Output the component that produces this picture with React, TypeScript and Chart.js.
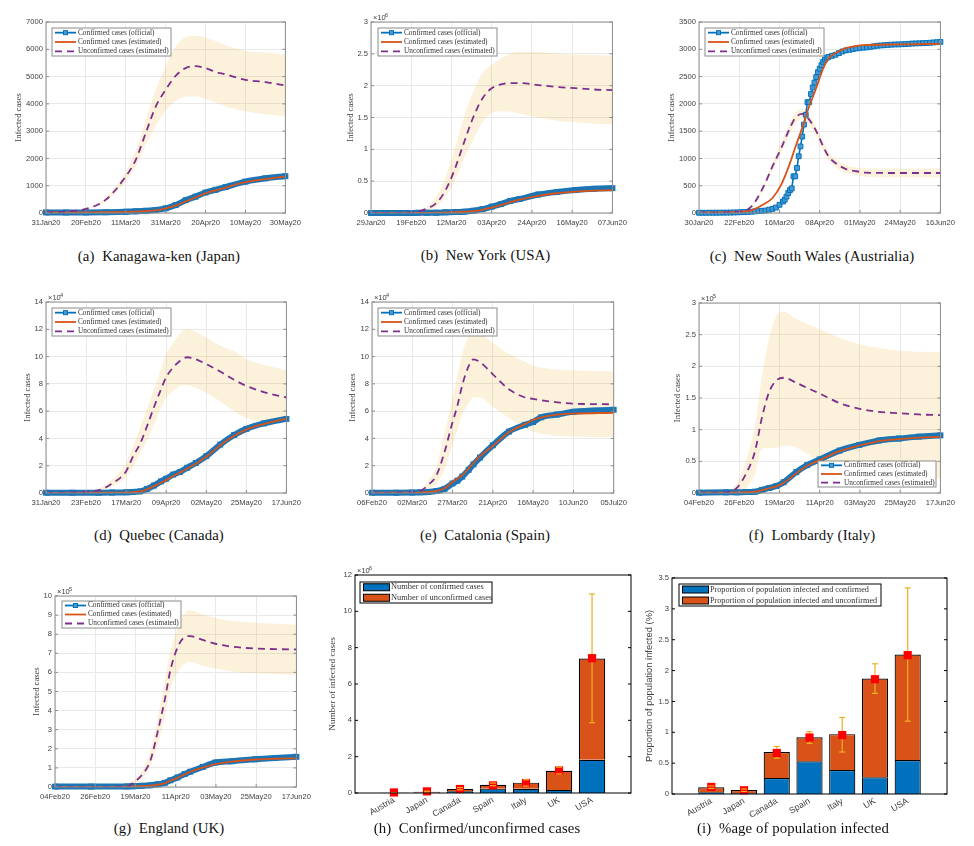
import React, { useEffect, useRef } from 'react';
import { Chart, registerables } from 'chart.js';

Chart.register(...registerables);

const BLUE = '#0072BD';
const ORANGE = '#D95319';
const PURPLE = '#7E2F8E';
const YELLOW = '#EDB120';
const BAND = 'rgba(237,177,32,0.16)';
const SERIF = '"Liberation Serif", serif';
const SANS = '"Liberation Sans", sans-serif';

const lineLegend = ['Confirmed cases (official)', 'Confirmed cases (estimated)', 'Unconfirmed cases (estimated)'];

// (a) Kanagawa
const ticksA = ['31Jan20', '20Feb20', '11Mar20', '31Mar20', '20Apr20', '10May20', '30May20'];
const yTicksA = [0, 1000, 2000, 3000, 4000, 5000, 6000, 7000];
const daysA = [0, 10, 20, 30, 40, 45, 50, 55, 60, 65, 70, 75, 80, 85, 90, 100, 110, 120];
const officialA = [20, 20, 22, 30, 45, 60, 80, 110, 170, 290, 470, 600, 750, 850, 950, 1150, 1270, 1350];
const estimatedA = [20, 20, 22, 28, 40, 50, 70, 100, 170, 270, 420, 570, 720, 830, 930, 1130, 1240, 1340];
const unconfirmedA = [20, 50, 150, 490, 1340, 1950, 2930, 3900, 4520, 5030, 5310, 5380, 5310, 5170, 5080, 4880, 4800, 4670];
const upperA = [20, 55, 170, 560, 1520, 2300, 3400, 4500, 5400, 6100, 6450, 6500, 6430, 6300, 6150, 5950, 5880, 5800];
const lowerA = [20, 45, 120, 420, 1150, 1700, 2500, 3200, 3750, 4100, 4260, 4270, 4180, 4050, 3900, 3720, 3620, 3550];

// (b) New York, x10^6
const ticksB = ['29Jan20', '19Feb20', '12Mar20', '03Apr20', '24Apr20', '16May20', '07Jun20'];
const yTicksB = [0, 0.5, 1, 1.5, 2, 2.5, 3];
const daysB = [0, 10, 20, 25, 30, 35, 40, 45, 50, 55, 60, 65, 70, 75, 80, 90, 100, 110, 120, 130];
const officialB = [0, 0, 0, 0.002, 0.003, 0.005, 0.01, 0.015, 0.02, 0.035, 0.06, 0.1, 0.14, 0.19, 0.22, 0.29, 0.33, 0.36, 0.38, 0.39];
const estimatedB = [0, 0, 0, 0.001, 0.002, 0.004, 0.008, 0.012, 0.02, 0.03, 0.05, 0.085, 0.125, 0.17, 0.21, 0.27, 0.31, 0.335, 0.35, 0.36];
const unconfirmedB = [0, 0, 0.01, 0.02, 0.07, 0.15, 0.35, 0.68, 1.1, 1.5, 1.8, 1.96, 2.02, 2.04, 2.04, 2.01, 1.98, 1.96, 1.94, 1.93];
const upperB = [0, 0, 0.01, 0.03, 0.1, 0.25, 0.55, 1.0, 1.5, 1.9, 2.2, 2.33, 2.43, 2.5, 2.53, 2.53, 2.5, 2.49, 2.48, 2.47];
const lowerB = [0, 0, 0.005, 0.01, 0.04, 0.1, 0.25, 0.5, 0.85, 1.15, 1.42, 1.57, 1.6, 1.59, 1.56, 1.5, 1.45, 1.42, 1.4, 1.39];

// (c) New South Wales
const ticksC = ['30Jan20', '22Feb20', '16Mar20', '08Apr20', '01May20', '24May20', '16Jun20'];
const yTicksC = [0, 500, 1000, 1500, 2000, 2500, 3000, 3500];
const daysC = [0, 23, 30, 37, 42, 47, 52, 55, 59, 63, 67, 71, 74, 78, 84, 90, 95, 115, 138];
const estimatedC = [5, 25, 50, 160, 275, 520, 915, 1200, 1560, 1955, 2290, 2650, 2830, 2930, 3020, 3060, 3075, 3090, 3100];
const unconfirmedC = [5, 25, 120, 490, 855, 1190, 1560, 1740, 1815, 1710, 1500, 1220, 1040, 915, 805, 765, 740, 733, 733];
const upperC = [5, 28, 130, 530, 920, 1290, 1660, 1840, 1900, 1800, 1590, 1310, 1120, 990, 880, 835, 815, 815, 820];
const lowerC = [5, 22, 110, 450, 790, 1090, 1450, 1630, 1720, 1610, 1410, 1130, 960, 845, 735, 695, 665, 650, 650];
const officialDaysC = [
  0, 2, 4, 6, 8, 10, 12, 14, 16, 18, 20, 22, 24, 26, 28, 30, 32, 34, 36, 38, 40,
  42, 44, 46, 48, 49, 50, 51, 52, 53, 54, 55, 56, 57, 58, 59, 60, 61, 62, 63, 64, 65, 66, 67, 68, 69, 70, 71, 72, 73, 74,
  76, 78, 80, 82, 84, 86, 88, 90, 92, 94, 96, 98, 100, 102, 104, 106, 108, 110, 112, 114, 116, 118, 120, 122, 124, 126, 128, 130, 132, 134, 136, 138,
];
const officialC = [
  4, 4, 4, 5, 5, 5, 6, 6, 7, 8, 10, 12, 15, 17, 20, 24, 30, 34, 40, 45, 60,
  75, 100, 150, 210, 245, 300, 365, 420, 450, 672, 672, 825, 1040, 1220, 1400, 1620, 1800, 2030, 2030, 2180, 2300, 2390, 2490, 2580, 2645, 2710, 2770, 2810, 2845, 2860,
  2880, 2900, 2930, 2960, 2980, 2990, 3005, 3015, 3025, 3030, 3035, 3045, 3055, 3065, 3070, 3075, 3080, 3085, 3088, 3090, 3092, 3095, 3100, 3105, 3108, 3110, 3112, 3115, 3120, 3125, 3130, 3135,
];

// (d) Quebec, x10^4
const ticksD = ['31Jan20', '23Feb20', '17Mar20', '09Apr20', '02May20', '25May20', '17Jun20'];
const yTicksD = [0, 2, 4, 6, 8, 10, 12, 14];
const daysD = [0, 15, 30, 38, 46, 50, 54, 58, 62, 66, 69, 73, 77, 81, 86, 92, 100, 108, 115, 125, 138];
const officialD = [0.02, 0.02, 0.02, 0.03, 0.05, 0.08, 0.12, 0.3, 0.55, 0.85, 1.05, 1.35, 1.55, 1.85, 2.2, 2.7, 3.55, 4.25, 4.7, 5.1, 5.43];
const estimatedD = [0.01, 0.01, 0.02, 0.03, 0.05, 0.07, 0.12, 0.27, 0.5, 0.75, 0.95, 1.25, 1.5, 1.8, 2.15, 2.65, 3.5, 4.2, 4.65, 5.05, 5.45];
const unconfirmedD = [0.01, 0.05, 0.2, 0.7, 1.6, 2.7, 3.6, 4.9, 6.3, 7.6, 8.5, 9.2, 9.7, 9.95, 9.8, 9.45, 8.9, 8.3, 7.85, 7.4, 7.0];
const upperD = [0.02, 0.05, 0.3, 1, 2.2, 3.4, 4.8, 6.2, 7.6, 9.1, 10.2, 11, 11.7, 12, 11.8, 11.4, 10.8, 10.4, 9.8, 9.4, 9.0];
const lowerD = [0.01, 0.03, 0.15, 0.5, 1.2, 1.9, 2.9, 3.9, 5, 6.2, 7, 7.5, 7.85, 7.9, 7.7, 7.35, 6.7, 6, 5.5, 5.2, 5.1];

// (e) Catalonia, x10^4
const ticksE = ['06Feb20', '02Mar20', '27Mar20', '21Apr20', '16May20', '10Jun20', '05Jul20'];
const yTicksE = [0, 2, 4, 6, 8, 10, 12, 14];
const daysE = [0, 15, 25, 30, 35, 40, 45, 50, 53, 56, 60, 63, 67, 75, 85, 95, 100, 105, 115, 125, 150];
const officialE = [0.02, 0.02, 0.03, 0.05, 0.08, 0.15, 0.3, 0.7, 0.9, 1.2, 1.7, 2.1, 2.6, 3.5, 4.5, 5.0, 5.2, 5.55, 5.75, 5.95, 6.1];
const estimatedE = [0.02, 0.02, 0.03, 0.05, 0.08, 0.15, 0.35, 0.8, 1.05, 1.3, 1.8, 2.2, 2.7, 3.45, 4.45, 5.05, 5.35, 5.55, 5.75, 5.82, 5.88];
const unconfirmedE = [0.01, 0.02, 0.05, 0.15, 0.6, 1.3, 3.0, 5.2, 6.4, 7.9, 9.3, 9.8, 9.6, 8.7, 7.6, 7.0, 6.9, 6.8, 6.65, 6.55, 6.5];
const upperE = [0.01, 0.02, 0.05, 0.2, 0.9, 2, 4.4, 7, 8.6, 10.2, 11.5, 11.9, 11.7, 11, 10.2, 9.6, 9.35, 9.2, 9.05, 9, 8.9];
const lowerE = [0.01, 0.01, 0.03, 0.08, 0.3, 0.7, 1.7, 3.6, 4.6, 5.7, 6.6, 7, 7, 6.3, 5.5, 4.8, 4.5, 4.35, 4.2, 4.15, 4.1];

// (f) Lombardy, x10^5
const ticksF = ['04Feb20', '26Feb20', '19Mar20', '11Apr20', '03May20', '25May20', '17Jun20'];
const yTicksF = [0, 0.5, 1, 1.5, 2, 2.5, 3];
const daysF = [0, 15, 21, 26, 31, 35, 39, 43, 47, 54, 60, 67, 78, 89, 100, 111, 122, 134];
const officialF = [0.005, 0.01, 0.01, 0.015, 0.02, 0.05, 0.08, 0.11, 0.17, 0.33, 0.44, 0.53, 0.67, 0.76, 0.83, 0.86, 0.89, 0.91];
const estimatedF = [0.005, 0.005, 0.01, 0.012, 0.02, 0.045, 0.075, 0.105, 0.16, 0.31, 0.43, 0.52, 0.66, 0.75, 0.82, 0.85, 0.875, 0.885];
const unconfirmedF = [0, 0.01, 0.08, 0.3, 0.65, 1.2, 1.6, 1.78, 1.82, 1.74, 1.66, 1.57, 1.42, 1.33, 1.28, 1.26, 1.24, 1.23];
const upperF = [0, 0.03, 0.15, 0.5, 1.05, 1.85, 2.45, 2.8, 2.86, 2.75, 2.67, 2.59, 2.45, 2.35, 2.29, 2.25, 2.23, 2.22];
const lowerF = [0, 0, 0.03, 0.08, 0.3, 0.7, 0.71, 0.71, 0.75, 0.72, 0.62, 0.5, 0.33, 0.27, 0.25, 0.24, 0.24, 0.23];

// (g) England, x10^5
const ticksG = ['04Feb20', '26Feb20', '19Mar20', '11Apr20', '03May20', '25May20', '17Jun20'];
const yTicksG = [0, 1, 2, 3, 4, 5, 6, 7, 8, 9, 10];
const daysG = [0, 20, 40, 43, 48, 53, 57, 61, 64, 68, 72, 75, 82, 89, 98, 111, 122, 134];
const officialG = [0.02, 0.02, 0.03, 0.04, 0.06, 0.09, 0.14, 0.22, 0.35, 0.5, 0.68, 0.8, 1.05, 1.28, 1.35, 1.45, 1.52, 1.58];
const estimatedG = [0.01, 0.01, 0.02, 0.03, 0.05, 0.07, 0.12, 0.2, 0.33, 0.48, 0.66, 0.8, 1.02, 1.2, 1.33, 1.44, 1.48, 1.5];
const unconfirmedG = [0.01, 0.01, 0.02, 0.2, 0.6, 1.4, 2.9, 4.6, 6.1, 7.3, 7.85, 7.9, 7.7, 7.5, 7.35, 7.25, 7.22, 7.2];
const upperG = [0.01, 0.01, 0.03, 0.3, 0.8, 1.9, 3.6, 5.6, 7.1, 8.3, 9.1, 9.25, 9.05, 8.85, 8.7, 8.6, 8.55, 8.5];
const lowerG = [0.01, 0.01, 0.01, 0.1, 0.4, 1.1, 2.2, 3.7, 5.1, 6, 6.45, 6.55, 6.35, 6.2, 6.05, 5.95, 5.9, 5.88];

// (h) and (i) bars
const countries = ['Austria', 'Japan', 'Canada', 'Spain', 'Italy', 'UK', 'USA'];
const yTicksH = [0, 2, 4, 6, 8, 10, 12];
const confirmedH = [0.003, 0.017, 0.1, 0.24, 0.23, 0.17, 1.83];
const unconfirmedH = [0.007, 0.053, 0.12, 0.21, 0.34, 1.05, 5.57];
const meanH = [0.03, 0.09, 0.22, 0.42, 0.55, 1.24, 7.42];
const lowH = [0.01, 0.05, 0.18, 0.4, 0.38, 1.05, 3.87];
const highH = [0.02, 0.1, 0.3, 0.55, 0.73, 1.42, 10.95];

const yTicksI = [0, 0.5, 1, 1.5, 2, 2.5, 3, 3.5];
const confirmedI = [0.03, 0.015, 0.26, 0.53, 0.39, 0.27, 0.55];
const unconfirmedI = [0.08, 0.05, 0.42, 0.39, 0.58, 1.6, 1.71];
const meanI = [0.115, 0.06, 0.665, 0.915, 0.955, 1.86, 2.25];
const lowI = [0.09, 0.04, 0.58, 0.82, 0.68, 1.63, 1.18];
const highI = [0.13, 0.08, 0.77, 1.01, 1.24, 2.11, 3.34];

type Rect = { left: number; top: number; w: number; h: number; padL: number };
type Box = { x: number; y: number; w: number; h: number };

const pts = (xs: number[], ys: number[]) => xs.map((x, i) => ({ x, y: ys[i] }));

// frame, inward ticks, x10^n note and the boxed legend, all on top of the data
function overlay(o: {
  frame: string;
  exponent?: number;
  legend: Box;
  font: number;
  labels: string[];
  bars?: boolean;
}) {
  return {
    id: 'overlay',
    afterDraw(chart: any) {
      const { ctx, chartArea: a, scales } = chart;
      ctx.save();
      ctx.strokeStyle = o.frame;
      ctx.lineWidth = 1;
      ctx.strokeRect(a.left, a.top, a.right - a.left, a.bottom - a.top);
      for (const t of scales.y.ticks) {
        const y = scales.y.getPixelForValue(t.value);
        ctx.beginPath();
        ctx.moveTo(a.left, y);
        ctx.lineTo(a.left + 3, y);
        ctx.moveTo(a.right, y);
        ctx.lineTo(a.right - 3, y);
        ctx.stroke();
      }
      if (!o.bars) {
        for (const t of scales.x.ticks) {
          const x = scales.x.getPixelForValue(t.value);
          ctx.beginPath();
          ctx.moveTo(x, a.bottom);
          ctx.lineTo(x, a.bottom - 3);
          ctx.stroke();
        }
      }
      if (o.exponent !== undefined) {
        ctx.fillStyle = '#404040';
        ctx.textBaseline = 'alphabetic';
        ctx.textAlign = 'left';
        ctx.font = `7.5px ${SANS}`;
        ctx.fillText('\u00d710', a.left + 2, a.top - 2);
        ctx.font = `5.5px ${SANS}`;
        ctx.fillText(String(o.exponent), a.left + 14, a.top - 5);
      }
      // legend, position given relative to the plot corner
      const L = o.legend;
      const lx = a.left + L.x;
      const ly = a.top + L.y;
      ctx.fillStyle = '#fff';
      ctx.fillRect(lx, ly, L.w, L.h);
      ctx.strokeStyle = o.bars ? '#000' : '#8c8c8c';
      ctx.strokeRect(lx, ly, L.w, L.h);
      ctx.font = `${o.font}px ${SERIF}`;
      ctx.textBaseline = 'middle';
      ctx.textAlign = 'left';
      o.labels.forEach((label, i) => {
        const rowH = L.h / o.labels.length;
        const cy = ly + rowH * (i + 0.5);
        if (o.bars) {
          ctx.fillStyle = i === 0 ? BLUE : ORANGE;
          ctx.strokeStyle = '#000';
          ctx.fillRect(lx + 3.5, cy - 3.5, 26, 7);
          ctx.strokeRect(lx + 3.5, cy - 3.5, 26, 7);
        } else {
          ctx.lineWidth = 1.8;
          ctx.strokeStyle = [BLUE, ORANGE, PURPLE][i];
          ctx.setLineDash(i === 2 ? [7, 5] : []);
          ctx.beginPath();
          ctx.moveTo(lx + 3, cy);
          ctx.lineTo(lx + 24, cy);
          ctx.stroke();
          ctx.setLineDash([]);
          if (i === 0) {
            ctx.fillStyle = '#4a9ad0';
            ctx.lineWidth = 1;
            ctx.fillRect(lx + 11.5, cy - 2, 4, 4);
            ctx.strokeRect(lx + 11.5, cy - 2, 4, 4);
          }
          ctx.lineWidth = 1;
        }
        ctx.fillStyle = '#333';
        ctx.fillText(label, lx + (o.bars ? 31 : 26), cy);
      });
      ctx.restore();
    },
  };
}

const tickFont = { family: SANS, size: 7.6 };

function yAxis(rect: Rect, ticks: number[], title: string, grid: boolean, titleFont: any) {
  return {
    min: ticks[0],
    max: ticks[ticks.length - 1],
    afterFit: (s: any) => {
      s.width = rect.padL;
    },
    afterBuildTicks: (s: any) => {
      s.ticks = ticks.map((value) => ({ value }));
    },
    title: { display: true, text: title, font: titleFont, color: '#404040', padding: 0 },
    ticks: {
      font: tickFont,
      color: '#404040',
      padding: 3,
      autoSkip: false,
      callback: (v: any) => String(v),
    },
    grid: { display: grid, color: '#e9e9e9', drawTicks: false },
    border: { display: false },
  };
}

function Canvas({ rect, padB, config }: { rect: Rect; padB: number; config: () => any }) {
  const ref = useRef<HTMLCanvasElement>(null);
  useEffect(() => {
    if (!ref.current) return;
    const chart = new Chart(ref.current, config());
    return () => chart.destroy();
  }, []);
  return (
    <canvas
      ref={ref}
      width={rect.padL + rect.w + 18}
      height={rect.h + 10 + padB}
      style={{ position: 'absolute', left: rect.left - rect.padL, top: rect.top - 10 }}
    />
  );
}

function LinePanel(p: {
  rect: Rect;
  days: number[];
  officialDays?: number[];
  official: number[];
  estimated: number[];
  unconfirmed: number[];
  upper: number[];
  lower: number[];
  xTicks: string[];
  yTicks: number[];
  exponent?: number;
  legend: Box;
}) {
  const { rect, days, xTicks, yTicks } = p;
  const sparse = !!p.officialDays;
  const maxDay = days[days.length - 1];
  const config = () => ({
    type: 'line',
    data: {
      datasets: [
        {
          data: pts(days, p.upper),
          fill: '+1',
          backgroundColor: BAND,
          borderWidth: 0,
          pointRadius: 0,
          cubicInterpolationMode: 'monotone',
          order: 5,
        },
        {
          data: pts(days, p.lower),
          borderWidth: 0,
          pointRadius: 0,
          cubicInterpolationMode: 'monotone',
          order: 4,
        },
        {
          data: pts(p.officialDays ?? days, p.official),
          borderColor: sparse ? BLUE : '#1c75b5',
          borderWidth: sparse ? 1.6 : 6,
          pointStyle: 'rect',
          pointRadius: sparse ? 3.4 : 4.2,
          pointBorderWidth: sparse ? 1 : 0,
          pointBorderColor: BLUE,
          pointBackgroundColor: sparse ? '#4a9ad0' : '#1c75b5',
          cubicInterpolationMode: sparse ? 'default' : 'monotone',
          clip: false,
          order: 3,
        },
        {
          data: pts(days, p.estimated),
          borderColor: ORANGE,
          borderWidth: 1.8,
          pointRadius: 0,
          cubicInterpolationMode: 'monotone',
          order: 2,
        },
        {
          data: pts(days, p.unconfirmed),
          borderColor: PURPLE,
          borderWidth: 1.8,
          borderDash: [7, 5],
          pointRadius: 0,
          cubicInterpolationMode: 'monotone',
          order: 1,
        },
      ],
    },
    options: {
      responsive: false,
      animation: false,
      layout: { padding: { top: 10, right: 18 } },
      plugins: { legend: { display: false }, tooltip: { enabled: false } },
      scales: {
        x: {
          type: 'linear',
          min: 0,
          max: maxDay,
          afterFit: (s: any) => {
            s.height = 18;
          },
          afterBuildTicks: (s: any) => {
            s.ticks = xTicks.map((_, i) => ({ value: (maxDay * i) / (xTicks.length - 1) }));
          },
          ticks: {
            font: tickFont,
            color: '#404040',
            padding: 5,
            maxRotation: 0,
            autoSkip: false,
            callback: (_: any, i: number) => xTicks[i],
          },
          grid: { color: '#e9e9e9', drawTicks: false },
          border: { display: false },
        },
        y: yAxis(rect, yTicks, 'Infected cases', true, { family: SERIF, size: 8.6 }),
      },
    },
    plugins: [overlay({ frame: '#8c8c8c', exponent: p.exponent, legend: p.legend, font: 7.3, labels: lineLegend })],
  });
  return <Canvas rect={rect} padB={18} config={config} />;
}

function BarPanel(p: {
  rect: Rect;
  margin: number;
  confirmed: number[];
  unconfirmed: number[];
  mean: number[];
  low: number[];
  high: number[];
  yTicks: number[];
  yTitle: string;
  titleFont: any;
  exponent?: number;
  legend: Box;
  font: number;
  labels: string[];
}) {
  const { rect, margin } = p;
  const idx = countries.map((_, i) => i);
  const config = () => ({
    type: 'bar',
    data: {
      datasets: [
        ...idx.map((i) => ({
          type: 'scatter',
          data: [
            { x: i, y: p.low[i] },
            { x: i, y: p.high[i] },
          ],
          pointStyle: 'line',
          pointRadius: 3,
          pointBorderWidth: 1.2,
          pointBorderColor: YELLOW,
          showLine: false,
          order: 0,
        })),
        {
          type: 'scatter',
          data: pts(idx, p.mean),
          pointStyle: 'rect',
          pointRadius: 5.8,
          pointBorderWidth: 0,
          pointBackgroundColor: '#ff0000',
          clip: false,
          order: 1,
        },
        ...idx.map((i) => ({
          type: 'line',
          data: [
            { x: i, y: p.low[i] },
            { x: i, y: p.high[i] },
          ],
          borderColor: YELLOW,
          borderWidth: 1.2,
          pointRadius: 0,
          order: 2,
        })),
        {
          data: pts(idx, p.confirmed),
          backgroundColor: BLUE,
          borderColor: '#000',
          borderWidth: 1.2,
          stack: 'total',
          categoryPercentage: 1,
          barPercentage: 0.8,
          order: 3,
        },
        {
          data: pts(idx, p.unconfirmed),
          backgroundColor: ORANGE,
          borderColor: '#000',
          borderWidth: 1.2,
          stack: 'total',
          categoryPercentage: 1,
          barPercentage: 0.8,
          order: 4,
        },
      ],
    },
    options: {
      responsive: false,
      animation: false,
      layout: { padding: { top: 10, right: 18 } },
      plugins: { legend: { display: false }, tooltip: { enabled: false } },
      scales: {
        x: {
          type: 'linear',
          offset: false,
          min: -margin,
          max: countries.length - 1 + margin,
          afterFit: (s: any) => {
            s.height = 32;
          },
          afterBuildTicks: (s: any) => {
            s.ticks = idx.map((value) => ({ value }));
          },
          ticks: {
            font: { family: SANS, size: 8.8 },
            color: '#404040',
            padding: 2,
            minRotation: 30,
            maxRotation: 30,
            autoSkip: false,
            callback: (_: any, i: number) => countries[i],
          },
          grid: { display: false, drawTicks: false },
          border: { display: false },
        },
        y: yAxis(rect, p.yTicks, p.yTitle, false, p.titleFont),
      },
    },
    plugins: [overlay({ frame: '#000', exponent: p.exponent, legend: p.legend, font: p.font, labels: p.labels, bars: true })],
  });
  return <Canvas rect={rect} padB={32} config={config} />;
}

const captions: [string, number, number][] = [
  ['(a)  Kanagawa-ken (Japan)', 159, 258],
  ['(b)  New York (USA)', 485.5, 257],
  ['(c)  New South Wales (Austrialia)', 812, 258],
  ['(d)  Quebec (Canada)', 159, 537],
  ['(e)  Catalonia (Spain)', 485, 537],
  ['(f)  Lombardy (Italy)', 812, 537],
  ['(g)  England (UK)', 169, 830],
  ['(h)  Confirmed/unconfirmed cases', 477, 830],
  ['(i)  %age of population infected', 793, 830],
];

export default function App() {
  return (
    <div style={{ position: 'absolute', left: 0, top: 0, width: 974, height: 846, background: '#fff', overflow: 'hidden' }}>
      <LinePanel
        rect={{ left: 46, top: 22, w: 242, h: 191, padL: 32 }}
        days={daysA}
        official={officialA}
        estimated={estimatedA}
        unconfirmed={unconfirmedA}
        upper={upperA}
        lower={lowerA}
        xTicks={ticksA}
        yTicks={yTicksA}
        legend={{ x: 6, y: 6, w: 119, h: 28 }}
      />
      <LinePanel
        rect={{ left: 371, top: 22, w: 243, h: 191, padL: 25 }}
        days={daysB}
        official={officialB}
        estimated={estimatedB}
        unconfirmed={unconfirmedB}
        upper={upperB}
        lower={lowerB}
        xTicks={ticksB}
        yTicks={yTicksB}
        exponent={6}
        legend={{ x: 7, y: 6, w: 119, h: 28 }}
      />
      <LinePanel
        rect={{ left: 699, top: 22, w: 243, h: 191, padL: 32 }}
        days={daysC}
        officialDays={officialDaysC}
        official={officialC}
        estimated={estimatedC}
        unconfirmed={unconfirmedC}
        upper={upperC}
        lower={lowerC}
        xTicks={ticksC}
        yTicks={yTicksC}
        legend={{ x: 6, y: 6, w: 119, h: 28 }}
      />
      <LinePanel
        rect={{ left: 46, top: 302, w: 242, h: 191, padL: 23 }}
        days={daysD}
        official={officialD}
        estimated={estimatedD}
        unconfirmed={unconfirmedD}
        upper={upperD}
        lower={lowerD}
        xTicks={ticksD}
        yTicks={yTicksD}
        exponent={4}
        legend={{ x: 6, y: 6, w: 119, h: 28 }}
      />
      <LinePanel
        rect={{ left: 372, top: 302, w: 242, h: 191, padL: 24 }}
        days={daysE}
        official={officialE}
        estimated={estimatedE}
        unconfirmed={unconfirmedE}
        upper={upperE}
        lower={lowerE}
        xTicks={ticksE}
        yTicks={yTicksE}
        exponent={4}
        legend={{ x: 6, y: 6, w: 119, h: 28 }}
      />
      <LinePanel
        rect={{ left: 699, top: 303, w: 243, h: 190, padL: 26 }}
        days={daysF}
        official={officialF}
        estimated={estimatedF}
        unconfirmed={unconfirmedF}
        upper={upperF}
        lower={lowerF}
        xTicks={ticksF}
        yTicks={yTicksF}
        exponent={5}
        legend={{ x: 119, y: 158, w: 118, h: 26 }}
      />
      <LinePanel
        rect={{ left: 55, top: 596, w: 243, h: 191, padL: 23 }}
        days={daysG}
        official={officialG}
        estimated={estimatedG}
        unconfirmed={unconfirmedG}
        upper={upperG}
        lower={lowerG}
        xTicks={ticksG}
        yTicks={yTicksG}
        exponent={5}
        legend={{ x: 7, y: 5, w: 119, h: 27 }}
      />
      <BarPanel
        rect={{ left: 355, top: 575, w: 276, h: 218, padL: 28 }}
        margin={1.18}
        confirmed={confirmedH}
        unconfirmed={unconfirmedH}
        mean={meanH}
        low={lowH}
        high={highH}
        yTicks={yTicksH}
        yTitle="Number of infected cases"
        titleFont={{ family: SERIF, size: 9.2 }}
        exponent={6}
        legend={{ x: 5, y: 7, w: 132, h: 21 }}
        font={8.4}
        labels={['Number of confirmed cases', 'Number of unconfirmed cases']}
      />
      <BarPanel
        rect={{ left: 672, top: 578, w: 275, h: 216, padL: 28 }}
        margin={1.2}
        confirmed={confirmedI}
        unconfirmed={unconfirmedI}
        mean={meanI}
        low={lowI}
        high={highI}
        yTicks={yTicksI}
        yTitle="Proportion of population infected (%)"
        titleFont={{ family: SANS, size: 9.4 }}
        legend={{ x: 7, y: 6, w: 202, h: 22 }}
        font={8.2}
        labels={['Proportion of population infected and confirmed', 'Proportion of population infected and unconfirmed']}
      />
      {captions.map(([text, x, y]) => (
        <div
          key={text}
          style={{
            position: 'absolute',
            left: x - 150,
            top: y - 10,
            width: 300,
            height: 20,
            lineHeight: '20px',
            textAlign: 'center',
            whiteSpace: 'pre',
            font: `14.8px ${SERIF}`,
            letterSpacing: '0.1px',
            color: '#111',
          }}
        >
          {text}
        </div>
      ))}
    </div>
  );
}
